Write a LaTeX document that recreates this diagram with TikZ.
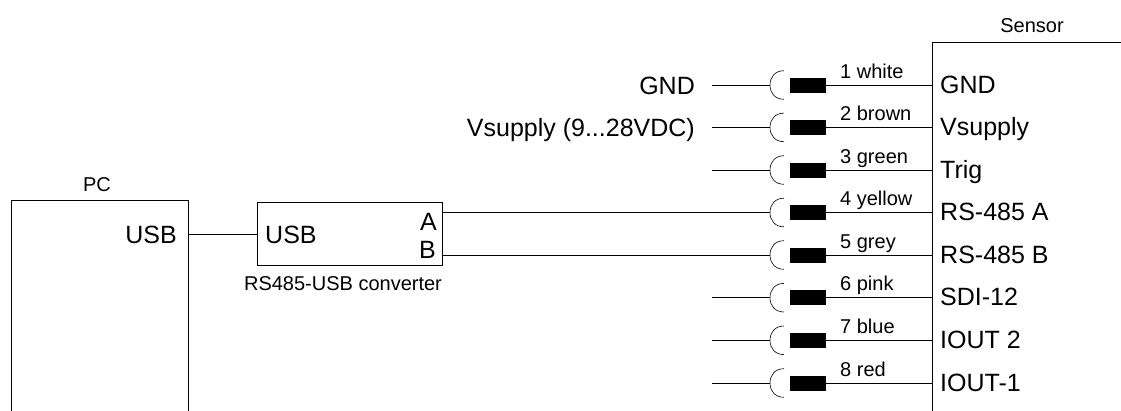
\documentclass[tikz,border=0pt]{standalone}
\usepackage{fontspec}
\setmainfont{Liberation Sans}
\tikzset{
  wire/.style={draw=black,line width=0.9pt},
  box/.style={draw=black,line width=0.9pt,rectangle,inner sep=0pt,anchor=north west},
  plug/.style={fill=black,rectangle,inner sep=0pt,minimum width=36pt,minimum height=15pt},
  big/.style={font=\fontsize{25}{28}\selectfont,inner sep=0pt},
  small/.style={font=\fontsize{20}{23}\selectfont,inner sep=0pt},
}
\begin{document}
\begin{tikzpicture}[x=1pt,y=-1pt]
\useasboundingbox (0,0) rectangle (1121,410);
\clip (0,0) rectangle (1121,410);
% Boxes
\node[box,minimum width=177pt,minimum height=240pt] (pc) at (11,200) {};
\node[box,minimum width=185pt,minimum height=63pt] (conv) at (257,202) {};
\node[box,minimum width=220pt,minimum height=400pt] (sensor) at (932,42) {};
% Box titles
\node[small,anchor=base] (pctitle) at (97,191.5) {PC};
\node[small,anchor=base] (sensortitle) at (1032,32) {Sensor};
\node[small,anchor=base] (convtitle) at (343,290.5) {RS485-USB converter};
% USB link
\node[big,anchor=base east] (pcusb) at (177,243) {USB};
\node[big,anchor=base west] (convusb) at (265,243) {USB};
\node[big,anchor=base east] (pina) at (437,230) {A};
\node[big,anchor=base east] (pinb) at (436,258) {B};
\coordinate (pcport) at (pc.east |- 0,234);
\coordinate (convport) at (conv.west |- 0,234);
\coordinate (aport) at (conv.east |- 0,212.5);
\coordinate (bport) at (conv.east |- 0,255);
\draw[wire] (pcport) -- (convport);
% Supply labels
\node[big,anchor=base east] (gndlabel) at (695,94) {GND};
\node[big,anchor=base east] (vlabel) at (695,136) {Vsupply (9...28VDC)};
% Rows
\foreach \i/\y/\col/\pin in {
  1/85/1 white/GND,
  2/127.4/2 brown/Vsupply,
  3/170/3 green/Trig,
  4/212.5/4 yellow/RS-485 A,
  5/255/5 grey/RS-485 B,
  6/297.7/6 pink/SDI-12,
  7/340.3/7 blue/IOUT 2,
  8/383/8 red/IOUT-1}{
  \node[plug] (p\i) at (808,\y) {};
  \coordinate (s\i) at (sensor.west |- 0,\y);
  \coordinate (arcl\i) at (770,\y);
  \coordinate (arct\i) at (784,\y-14.3);
  \coordinate (arcb\i) at (784,\y+14.3);
  \coordinate (free\i) at (712,\y);
  \draw[wire] (p\i) -- (s\i);
  \draw[line width=0.6pt] (arct\i) .. controls (775,\y-14.3) and (770,\y-8) .. (arcl\i)
     .. controls (770,\y+8) and (775,\y+14.3) .. (arcb\i);
  \node[small,anchor=base west] (w\i) at (840,\y-6.8) {\col};
  \node[big,anchor=base west] (n\i) at (940,\y+8) {\pin};
}
\foreach \i in {1,2,3,6,7,8}{ \draw[wire] (free\i) -- (arcl\i); }
\draw[wire] (aport) -- (arcl4);
\draw[wire] (bport) -- (arcl5);
\end{tikzpicture}
\end{document}
